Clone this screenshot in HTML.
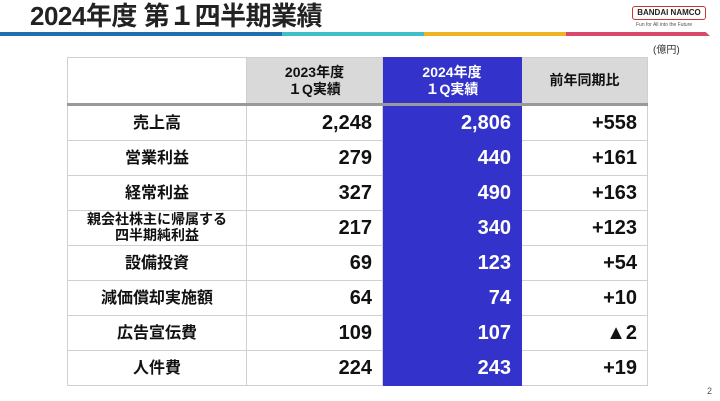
<!DOCTYPE html><html><head><meta charset="utf-8"><style>
body{margin:0;width:720px;height:401px;background:#fff;position:relative;overflow:hidden;font-family:"Liberation Sans","Noto Sans CJK JP",sans-serif;}
.t{position:absolute;left:30px;top:-3px;font-size:26px;line-height:38px;font-weight:bold;color:#222;letter-spacing:-0.5px}
.bar{position:absolute;top:32px;height:4px}
table{position:absolute;left:67px;top:57px;border-collapse:collapse;font-weight:bold;color:#111}
td{border:1px solid #d0d0d0;height:34px;padding:0;font-size:20px;vertical-align:middle;line-height:20px}
td.l{width:178px;text-align:center;font-size:16px;line-height:18px;font-family:"Noto Sans CJK JP",sans-serif}
td.l span{position:relative;top:-2px}
td.n{text-align:right;padding-right:10px}
.c2{width:125px}.c3{width:128px;background:#3333cc;color:#fff;border-color:#3333cc}.c4{width:115px}
tr.h td{height:45px;font-size:14px;text-align:center;line-height:17px;border-bottom:3px solid #999}
tr.h .c2,tr.h .c4{background:#d9d9d9}
</style></head><body>
<div class="t">2024年度 第１四半期業績</div>
<div class="bar" style="left:0;width:282px;background:#1f6fae"></div>
<div class="bar" style="left:282px;width:142px;background:#3fc0c8"></div>
<div class="bar" style="left:424px;width:142px;background:#f0b323"></div>
<div class="bar" style="left:566px;width:144px;background:#d94a6a;clip-path:polygon(0 0,97% 0,100% 100%,0 100%)"></div>
<div style="position:absolute;left:632px;top:6px;width:72px;height:12px;border:1.5px solid #c33;border-radius:3px;font-size:8px;font-weight:bold;text-align:center;line-height:12px;color:#222">BANDAI NAMCO</div>
<div style="position:absolute;left:636px;top:22px;font-size:5px;color:#555">Fun for All into the Future</div>
<div style="position:absolute;left:653px;top:41px;font-size:10px;color:#333">(億円)</div>
<div style="position:absolute;left:707px;top:386px;font-size:9px;color:#555">2</div>
<table>
<tr class="h"><td class="l" style="border-bottom:3px solid #999"></td><td class="c2">2023年度<br>１Q実績</td><td class="c3" style="border-bottom:3px solid #999">2024年度<br>１Q実績</td><td class="c4">前年同期比</td></tr>
<tr><td class="l"><span>売上高</span></td><td class="n c2">2,248</td><td class="n c3">2,806</td><td class="n c4">+558</td></tr>
<tr><td class="l"><span>営業利益</span></td><td class="n c2">279</td><td class="n c3">440</td><td class="n c4">+161</td></tr>
<tr><td class="l"><span>経常利益</span></td><td class="n c2">327</td><td class="n c3">490</td><td class="n c4">+163</td></tr>
<tr><td class="l" style="font-size:14px;line-height:16px"><span style="top:-1px">親会社株主に帰属する<br>四半期純利益</span></td><td class="n c2">217</td><td class="n c3">340</td><td class="n c4">+123</td></tr>
<tr><td class="l"><span>設備投資</span></td><td class="n c2">69</td><td class="n c3">123</td><td class="n c4">+54</td></tr>
<tr><td class="l"><span>減価償却実施額</span></td><td class="n c2">64</td><td class="n c3">74</td><td class="n c4">+10</td></tr>
<tr><td class="l"><span>広告宣伝費</span></td><td class="n c2">109</td><td class="n c3">107</td><td class="n c4">▲2</td></tr>
<tr><td class="l"><span>人件費</span></td><td class="n c2">224</td><td class="n c3">243</td><td class="n c4">+19</td></tr>
</table>
</body></html>
